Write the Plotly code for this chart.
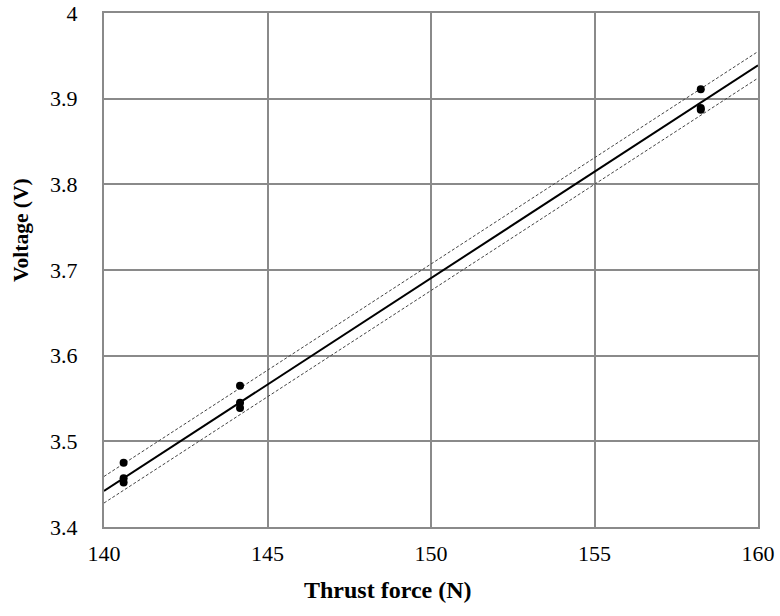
import plotly.graph_objects as go

# Measured data (Thrust force N, Voltage V)
thrust = [140.6, 140.6, 140.6, 144.16, 144.16, 144.16, 158.25, 158.25, 158.25]
voltage = [3.475, 3.457, 3.452, 3.565, 3.545, 3.539, 3.911, 3.889, 3.887]

# Regression line and band endpoints
fit_x = [140, 160]
fit_y = [3.442, 3.939]
upper_y = [3.459, 3.955]
lower_y = [3.428, 3.924]

x_ticks = [140, 145, 150, 155, 160]
y_ticks = [3.4, 3.5, 3.6, 3.7, 3.8, 3.9, 4.0]
y_tick_text = ["3.4", "3.5", "3.6", "3.7", "3.8", "3.9", "4"]

W, H = 780, 616
L, R, T, B = 104, 22, 13, 89

fig = go.Figure()
fig.add_trace(go.Scatter(x=fit_x, y=upper_y, mode="lines",
                         line=dict(color="#444444", width=1, dash="3px,2px"), hoverinfo="skip"))
fig.add_trace(go.Scatter(x=fit_x, y=lower_y, mode="lines",
                         line=dict(color="#444444", width=1, dash="3px,2px"), hoverinfo="skip"))
fig.add_trace(go.Scatter(x=fit_x, y=fit_y, mode="lines",
                         line=dict(color="black", width=2)))
fig.add_trace(go.Scatter(x=thrust, y=voltage, mode="markers",
                         marker=dict(color="black", size=8)))

font_family = "Liberation Serif"
pw, ph = W - L - R, H - T - B
fig.update_layout(
    width=W, height=H,
    margin=dict(l=L, r=R, t=T, b=B),
    paper_bgcolor="white", plot_bgcolor="white",
    showlegend=False,
    font=dict(family=font_family, size=22, color="black"),
    annotations=[
        dict(text="<b>Thrust force (N)</b>", xref="paper", yref="paper",
             x=(388 - L) / pw, y=-(590 - (T + ph)) / ph, showarrow=False,
             xanchor="center", yanchor="middle", font=dict(family=font_family, size=24)),
        dict(text="<b>Voltage (V)</b>", xref="paper", yref="paper",
             x=-(L - 21) / pw, y=((T + ph) - 230) / ph, showarrow=False, textangle=-90,
             xanchor="center", yanchor="middle", font=dict(family=font_family, size=21.5)),
    ],
)
fig.update_xaxes(
    range=[140, 160], tickvals=x_ticks, ticks="", ticklabelstandoff=6,
    showgrid=True, gridcolor="#8a8a8a", gridwidth=2, automargin=False,
    ticklabeloverflow="allow",
    showline=True, linecolor="#8a8a8a", linewidth=2, mirror=True, zeroline=False,
    tickfont=dict(family=font_family, size=22),
)
fig.update_yaxes(
    range=[3.4, 4.0], tickvals=y_ticks, ticktext=y_tick_text, ticks="", ticklabelstandoff=20,
    showgrid=True, gridcolor="#8a8a8a", gridwidth=2, automargin=False,
    ticklabeloverflow="allow",
    showline=True, linecolor="#8a8a8a", linewidth=2, mirror=True, zeroline=False,
    tickfont=dict(family=font_family, size=22),
)

fig.write_html("out.html", config={"displayModeBar": False},
               post_script="document.body.style.margin='0';")
